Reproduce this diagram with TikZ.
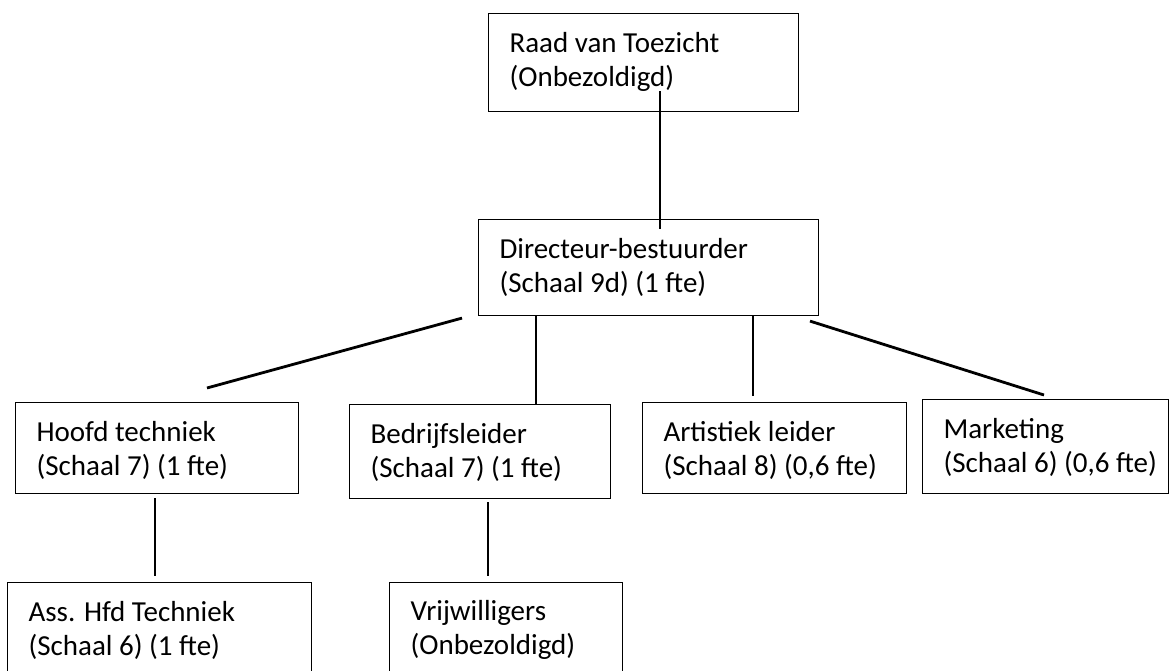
\documentclass[tikz,border=0pt]{standalone}
\usepackage{fontspec}
\setmainfont{Carlito}
\newcommand\boxpad{\hspace*{21pt}}
\begin{document}
\begin{tikzpicture}[x=1pt,y=-1pt,
  orgbox/.style={draw=black, line width=1.1pt, inner sep=0pt, anchor=north west,
    align=flush left, text height=39pt, font={\fontsize{29}{34}\selectfont}},
  conn/.style={draw=black, line width=2.8pt}]
\useasboundingbox[fill=white] (0,0) rectangle (1171,671);
\node[orgbox, text width=310pt, text depth=59pt] (raad) at (488,13) {\boxpad Raad van Toezicht\\\boxpad (Onbezoldigd)};
\node[orgbox, text width=340pt, text depth=57pt] (dir) at (478,219) {\boxpad Directeur-bestuurder\\\boxpad (Schaal 9d) (1 fte)};
\node[orgbox, text width=283pt, text depth=52pt] (hoofd) at (15,402) {\boxpad Hoofd techniek\\\boxpad (Schaal 7) (1 fte)};
\node[orgbox, text width=261pt, text depth=55pt] (bedr) at (349,404) {\boxpad Bedrijfsleider\\\boxpad (Schaal 7) (1 fte)};
\node[orgbox, text width=264pt, text depth=52pt] (art) at (642,402) {\boxpad Artistiek leider\\\boxpad (Schaal 8) (0,6 fte)};
\node[orgbox, text width=246pt, text depth=55pt] (mark) at (922,399) {\boxpad Marketing\\\boxpad (Schaal 6) (0,6 fte)};
\node[orgbox, text width=304pt, text depth=61pt] (ass) at (7,582) {\boxpad Ass. Hfd Techniek\\\boxpad (Schaal 6) (1 fte)};
\node[orgbox, text width=233pt, text depth=62pt, text height=38pt] (vrij) at (389,582) {\boxpad Vrijwilligers\\\boxpad (Onbezoldigd)};
\draw[conn] ([xshift=172pt,yshift=21pt]raad.south west) -- ([xshift=182pt,yshift=-10pt]dir.north west);
\draw[conn] ([xshift=-16pt,yshift=-2pt]dir.south west) -- ([xshift=192pt,yshift=14pt]hoofd.north west);
\draw[conn] ([xshift=58pt]dir.south west) -- ([xshift=187pt]bedr.north west);
\draw[conn] ([xshift=275pt]dir.south west) -- ([xshift=111pt,yshift=6pt]art.north west);
\draw[conn] ([xshift=332pt,yshift=-5pt]dir.south west) -- ([xshift=122pt,yshift=4pt]mark.north west);
\draw[conn] ([xshift=140pt,yshift=-4pt]hoofd.south west) -- ([xshift=148pt,yshift=6pt]ass.north west);
\draw[conn] ([xshift=139pt,yshift=-3pt]bedr.south west) -- ([xshift=99pt,yshift=6pt]vrij.north west);
\end{tikzpicture}
\end{document}
